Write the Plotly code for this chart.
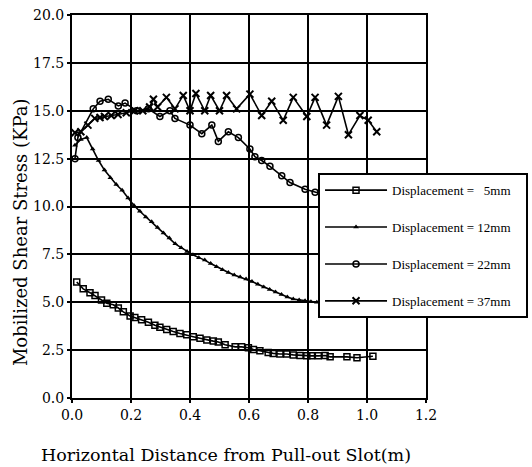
import plotly.graph_objects as go

# ---- data ----
x_5mm = [0.016, 0.038, 0.061, 0.078, 0.100, 0.118, 0.140, 0.157, 0.174, 0.197,
         0.213, 0.236, 0.259, 0.281, 0.298, 0.321, 0.343, 0.366, 0.389, 0.411,
         0.434, 0.457, 0.479, 0.496, 0.519, 0.553, 0.575, 0.598, 0.615, 0.637,
         0.665, 0.682, 0.705, 0.728, 0.750, 0.773, 0.796, 0.812, 0.835, 0.858,
         0.875, 0.932, 0.966, 1.020]
y_5mm = [6.06, 5.70, 5.50, 5.35, 5.12, 4.95, 4.87, 4.70, 4.50, 4.28,
         4.20, 4.08, 3.95, 3.80, 3.70, 3.58, 3.47, 3.37, 3.30, 3.20,
         3.12, 3.03, 2.97, 2.92, 2.78, 2.67, 2.67, 2.62, 2.53, 2.47,
         2.37, 2.33, 2.30, 2.30, 2.25, 2.22, 2.20, 2.20, 2.20, 2.22,
         2.15, 2.15, 2.10, 2.18]

x_12mm = [0.01, 0.03, 0.05, 0.07, 0.09, 0.11, 0.13, 0.15, 0.17, 0.19,
          0.21, 0.23, 0.25, 0.27, 0.29, 0.31, 0.33, 0.35, 0.37, 0.39,
          0.41, 0.43, 0.45, 0.47, 0.49, 0.51, 0.53, 0.55, 0.57, 0.59,
          0.61, 0.63, 0.65, 0.67, 0.69, 0.71, 0.73, 0.75, 0.77, 0.79,
          0.81, 0.83]
y_12mm = [13.2, 13.5, 13.6, 13.0, 12.4, 11.9, 11.5, 11.15, 10.85, 10.45,
          10.05, 9.75, 9.45, 9.2, 8.9, 8.62, 8.35, 8.05, 7.85, 7.65,
          7.48, 7.33, 7.2, 7.02, 6.85, 6.7, 6.55, 6.42, 6.32, 6.22,
          6.08, 5.94, 5.8, 5.67, 5.53, 5.4, 5.27, 5.17, 5.12, 5.08,
          5.03, 5.0]

x_22mm = [0.010, 0.020, 0.072, 0.095, 0.123, 0.157, 0.180, 0.219, 0.259, 0.298,
          0.332, 0.349, 0.400, 0.440, 0.474, 0.496, 0.530, 0.564, 0.603, 0.620,
          0.643, 0.671, 0.711, 0.739, 0.790, 0.824, 0.860]
y_22mm = [12.5, 13.6, 15.1, 15.5, 15.6, 15.25, 15.4, 15.0, 15.1, 14.7,
          15.0, 14.6, 14.25, 13.8, 14.25, 13.4, 13.9, 13.6, 13.0, 12.6,
          12.4, 12.1, 11.6, 11.25, 10.9, 10.75, 10.6]

x_37mm = [0.010, 0.030, 0.054, 0.077, 0.095, 0.110, 0.133, 0.156, 0.184, 0.212,
          0.240, 0.263, 0.276, 0.290, 0.320, 0.349, 0.377, 0.400, 0.420, 0.450,
          0.470, 0.500, 0.524, 0.558, 0.603, 0.643, 0.677, 0.716, 0.750, 0.796,
          0.824, 0.863, 0.903, 0.937, 0.976, 1.004, 1.033]
y_37mm = [13.85, 13.9, 14.25, 14.6, 14.65, 14.7, 14.75, 14.8, 14.9, 15.0,
          15.0, 15.2, 15.6, 15.2, 15.7, 15.1, 15.8, 15.0, 15.9, 15.0,
          15.8, 15.0, 15.8, 15.1, 15.87, 14.75, 15.5, 14.5, 15.7, 14.7,
          15.7, 14.25, 15.75, 13.75, 14.75, 14.5, 13.9]

pad = "\u00a0" * 3
names = ["Displacement =\u00a0\u00a0\u00a05mm" + pad, "Displacement = 12mm" + pad,
         "Displacement = 22mm" + pad, "Displacement = 37mm" + pad]
x_ticks = [0.0, 0.2, 0.4, 0.6, 0.8, 1.0, 1.2]
x_tick_text = ["0.0", "0.2", "0.4", "0.6", "0.8", "1.0", "1.2"]
y_ticks = [0.0, 2.5, 5.0, 7.5, 10.0, 12.5, 15.0, 17.5, 20.0]
y_tick_text = ["0.0", "2.5", "5.0", "7.5", "10.0", "12.5", "15.0", "17.5", "20.0"]
x_title = "Horizontal Distance from Pull-out Slot(m)"
y_title = "Mobilized Shear Stress (KPa)"

series = [
    (x_5mm, y_5mm, dict(symbol="square-open", size=6, line=dict(width=1.5, color="black"))),
    (x_12mm, y_12mm, dict(symbol="triangle-up", size=5, color="black")),
    (x_22mm, y_22mm, dict(symbol="circle-open", size=6, line=dict(width=1.5, color="black"))),
    (x_37mm, y_37mm, dict(symbol="x-thin", size=7, line=dict(width=2, color="black"))),
]

fig = go.Figure()
for i, ((xs, ys, mk), nm) in enumerate(zip(series, names)):
    mk = dict(mk)
    mk.setdefault("color", "black")
    fig.add_trace(go.Scatter(
        x=xs, y=ys, mode="lines+markers", name=nm,
        line=dict(color="black", width=1.6),
        marker=mk, legendgroup=f"g{i}",
    ))

axis_font = dict(family="DejaVu Serif", size=14, color="black")
common = dict(
    showgrid=True, gridcolor="black", gridwidth=1.5,
    showline=True, linecolor="black", linewidth=2, mirror=True,
    ticks="outside", ticklen=3, tickcolor="black", tickwidth=1.5,
    tickfont=axis_font, zeroline=False, automargin=False,
)
fig.update_layout(
    width=532, height=467,
    margin=dict(l=72, r=106, t=15, b=69, autoexpand=False),
    paper_bgcolor="white", plot_bgcolor="white",
    showlegend=True,
    legend=dict(
        x=0.695, y=0.587, xanchor="left", yanchor="top",
        bgcolor="white", bordercolor="black", borderwidth=2,
        font=dict(family="Liberation Serif", size=13, color="black"),
        tracegroupgap=17, itemwidth=62,
    ),
    xaxis=dict(range=[0, 1.2], tickvals=x_ticks, ticktext=x_tick_text, **common),
    yaxis=dict(range=[0, 20], tickvals=y_ticks, ticktext=y_tick_text, **common),
    annotations=[
        dict(text=x_title, xref="paper", yref="paper", x=0.435, y=-0.149,
             xanchor="center", yanchor="middle", showarrow=False,
             font=dict(family="DejaVu Serif", size=17.5, color="black")),
        dict(text=y_title, xref="paper", yref="paper", x=-0.147, y=0.433,
             xanchor="center", yanchor="middle", showarrow=False, textangle=-90,
             font=dict(family="DejaVu Serif", size=18, color="black")),
    ],
)

fig.write_html("out.html", config={"displayModeBar": False},
               post_script="document.body.style.margin='0px';")
